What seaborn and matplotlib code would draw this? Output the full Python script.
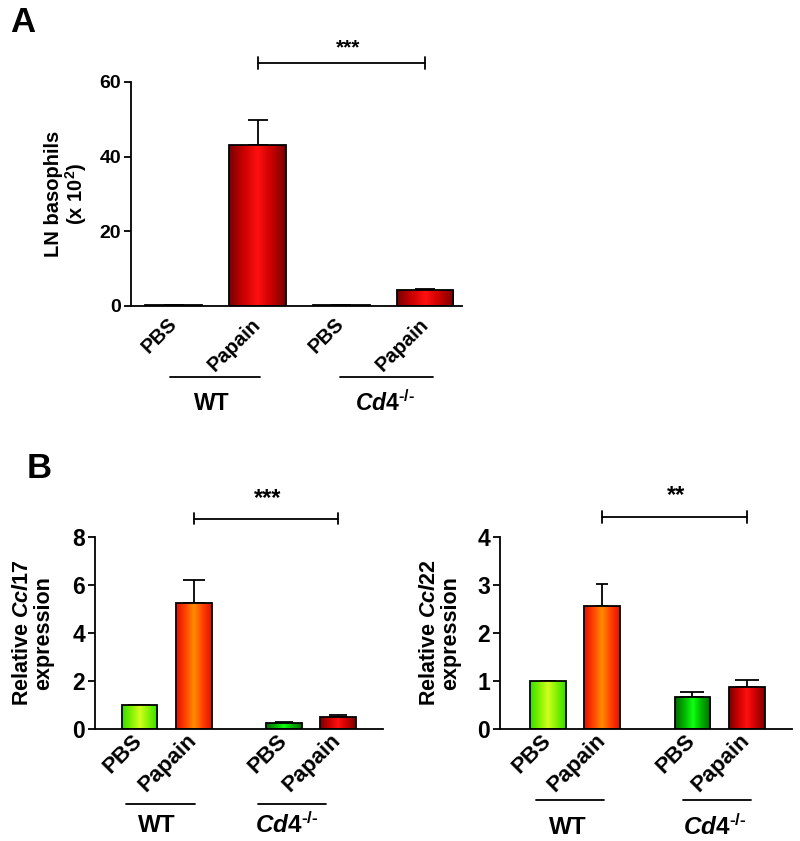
import numpy as np
import pandas as pd
import matplotlib
matplotlib.use("Agg")
import matplotlib.pyplot as plt
import seaborn as sns
from matplotlib.colors import LinearSegmentedColormap

# ---------------- data ----------------
treatments = ["PBS", "Papain", "PBS", "Papain"]
genotypes = ["WT", "WT", "Cd4", "Cd4"]
group_labels = ["WT", "$\\mathit{Cd4}^{\u2010/\u2010}$"]

basophils = [0.15, 43.2, 0.15, 4.3]
basophils_err = [0.05, 6.6, 0.05, 0.2]

ccl17 = [1.0, 5.24, 0.26, 0.51]
ccl17_err = [0.0, 0.94, 0.03, 0.07]

ccl22 = [1.0, 2.55, 0.67, 0.87]
ccl22_err = [0.0, 0.47, 0.09, 0.15]

yticks_A = [0, 20, 40, 60]
yticks_B17 = [0, 2, 4, 6, 8]
yticks_B22 = [0, 1, 2, 3, 4]

sig_A = "***"
sig_B17 = "***"
sig_B22 = "**"

# ---------------- style ----------------
sns.set_theme(style="ticks")
plt.rcParams["font.family"] = ["Liberation Sans", "DejaVu Sans"]
plt.rcParams["font.weight"] = "bold"
plt.rcParams["text.color"] = "black"
plt.rcParams["axes.labelcolor"] = "black"
plt.rcParams["xtick.color"] = "black"
plt.rcParams["ytick.color"] = "black"
plt.rcParams["axes.edgecolor"] = "black"
plt.rcParams["mathtext.fontset"] = "custom"
plt.rcParams["mathtext.rm"] = "Liberation Sans:bold"
plt.rcParams["mathtext.it"] = "Liberation Sans:bold:italic"
plt.rcParams["mathtext.bf"] = "Liberation Sans:bold"
plt.rcParams["mathtext.default"] = "it"

LW = 1.3

grad_A = ["#780000", "#c80000", "#ff1010", "#c80000", "#780000"]
grad_B = [
    ["#30e000", "#80f000", "#d0ff20", "#80f000", "#30e000"],
    ["#e01000", "#ff4000", "#ff8c00", "#ff4000", "#e01000"],
    ["#006a00", "#00b000", "#10ff10", "#00b000", "#006a00"],
    ["#780000", "#c80000", "#ff1010", "#c80000", "#780000"],
]

fig = plt.figure(figsize=(8.0, 8.41), dpi=100)


def gradient_bars(ax, colors_list):
    grad = np.linspace(0, 1, 256).reshape(1, -1)
    for patch, cols in zip(ax.patches, colors_list):
        x0, y0 = patch.get_x(), patch.get_y()
        w, h = patch.get_width(), patch.get_height()
        cmap = LinearSegmentedColormap.from_list("g", cols)
        im = ax.imshow(grad, cmap=cmap, extent=[x0, x0 + w, y0, y0 + h],
                       aspect="auto", origin="lower", interpolation="bilinear",
                       zorder=2)
        im.set_clip_path(patch)
        patch.set_facecolor("none")
        patch.set_edgecolor("black")
        patch.set_linewidth(LW)
        patch.set_zorder(3)


def make_panel(rect, positions, values, errs, yticks, xlim, grad_cols,
               ylabel, sig, sig_y, sig_tick, star_y, star_x,
               caps, tick_fs, xtick_fs, ylab_fs, grp_fs, star_fs,
               line_y, grp_spans, lab_y, lab_x, labelpad, width, xpad):
    ax = fig.add_axes(rect)
    df = pd.DataFrame({"pos": positions, "value": values})
    sns.barplot(data=df, x="pos", y="value", native_scale=True, width=width,
                color="red", errorbar=None, ax=ax)
    gradient_bars(ax, grad_cols)
    for p, v, e, c in zip(positions, values, errs, caps):
        ax.errorbar([p], [v], yerr=[[0], [e]], fmt="none", ecolor="black",
                    elinewidth=LW, capsize=c, capthick=LW, zorder=1)
    ax.set_xlim(*xlim)
    ax.set_ylim(yticks[0], yticks[-1])
    ax.set_yticks(yticks)
    ax.set_yticklabels([str(t) for t in yticks], fontsize=tick_fs, fontweight="bold")
    ax.set_xticks(positions)
    ax.set_xticklabels(treatments, rotation=45, ha="right", va="center",
                       rotation_mode="anchor", fontsize=xtick_fs, fontweight="bold")
    ax.tick_params(axis="x", length=0, pad=xpad)
    ax.tick_params(axis="y", length=5, width=LW, pad=2)
    ax.set_xlabel("")
    ax.set_ylabel(ylabel, fontsize=ylab_fs, fontweight="bold", labelpad=labelpad,
                  linespacing=1.0)
    for s in ["top", "right"]:
        ax.spines[s].set_visible(False)
    for s in ["left", "bottom"]:
        ax.spines[s].set_linewidth(LW)
        ax.spines[s].set_color("black")
    # significance bracket between WT papain and Cd4 papain
    x1, x2 = positions[1], positions[3]
    ax.plot([x1, x2], [sig_y, sig_y], color="black", lw=LW, clip_on=False)
    for xx in (x1, x2):
        ax.plot([xx, xx], [sig_y - sig_tick, sig_y + sig_tick], color="black",
                lw=LW, clip_on=False)
    ax.text(star_x, star_y, sig, ha="center", va="center", fontsize=star_fs,
            fontweight="bold")
    # group lines / labels
    tr = ax.get_xaxis_transform()
    for (a, b), lx, lab in zip(grp_spans, lab_x, group_labels):
        ax.plot([a, b], [line_y, line_y], color="black", lw=LW, transform=tr,
                clip_on=False)
        ax.text(lx, lab_y, lab, ha="center", va="center", fontsize=grp_fs,
                fontweight="bold", transform=tr)
    return ax


W, H = 800.0, 841.0

# Panel A
make_panel(rect=[131 / W, 1 - 306 / H, (462 - 131) / W, 224 / H],
           positions=[0, 1, 2, 3], values=basophils, errs=basophils_err,
           yticks=yticks_A, xlim=(-0.51, 3.44), grad_cols=[grad_A] * 4,
           ylabel="LN basophils\n(x 10$^{\\mathbf{2}}$)", sig=sig_A,
           sig_y=65.2, sig_tick=1.6, star_y=69.2, star_x=2.08,
           caps=[7.4] * 4, tick_fs=14, xtick_fs=14.5, ylab_fs=14.5, grp_fs=16.5,
           star_fs=15,
           line_y=-0.317, grp_spans=[(-0.04, 1.03), (1.99, 3.09)],
           lab_y=-0.435, lab_x=[0.46, 2.52], labelpad=8, width=0.675, xpad=11)

# Panel B left
make_panel(rect=[95 / W, 1 - 729 / H, (383 - 95) / W, 192.3 / H],
           positions=[0, 1, 2.66, 3.66], values=ccl17, errs=ccl17_err,
           yticks=yticks_B17, xlim=(-0.82, 4.49), grad_cols=grad_B,
           ylabel="Relative $\\mathit{Ccl17}$\nexpression", sig=sig_B17,
           sig_y=8.75, sig_tick=0.23, star_y=9.6, star_x=2.36,
           caps=[7.8, 7.8, 6.5, 6.5], tick_fs=16.5, xtick_fs=16, ylab_fs=15.5,
           grp_fs=17.5, star_fs=17,
           line_y=-0.39, grp_spans=[(-0.24, 1.02), (2.18, 3.43)],
           lab_y=-0.5, lab_x=[0.32, 2.72], labelpad=13, width=0.66, xpad=6)

# Panel B right
make_panel(rect=[500 / W, 1 - 729 / H, (792 - 500) / W, 192.3 / H],
           positions=[0, 1, 2.66, 3.66], values=ccl22, errs=ccl22_err,
           yticks=yticks_B22, xlim=(-0.88, 4.49), grad_cols=grad_B,
           ylabel="Relative $\\mathit{Ccl22}$\nexpression", sig=sig_B22,
           sig_y=4.41, sig_tick=0.12, star_y=4.85, star_x=2.36,
           caps=[6.0, 4.5, 8.5, 8.3], tick_fs=16.5, xtick_fs=16, ylab_fs=15.5,
           grp_fs=17.5, star_fs=17,
           line_y=-0.37, grp_spans=[(-0.21, 1.04), (2.48, 3.73)],
           lab_y=-0.51, lab_x=[0.37, 3.07], labelpad=12, width=0.66, xpad=6)

fig.text(10 / W, 1 - 6 / H, "A", fontsize=25, fontweight="bold", va="top", ha="left")
fig.text(27 / W, 1 - 452 / H, "B", fontsize=25, fontweight="bold", va="top", ha="left")

fig.savefig("out.png", dpi=100)
